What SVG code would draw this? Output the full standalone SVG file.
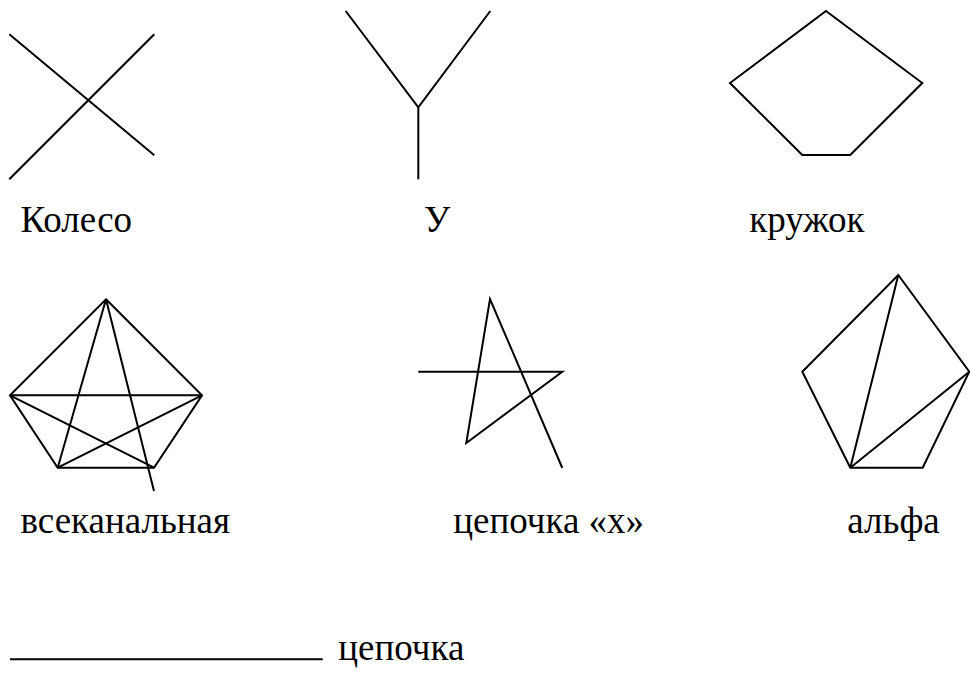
<svg xmlns="http://www.w3.org/2000/svg" width="970" height="675" viewBox="0 0 970 675">
<style>
.s{fill:none;stroke:#000;stroke-width:2}
</style>
<rect width="970" height="675" fill="#fff"/>
<g id="koleso">
<line class="s" x1="9.3" y1="34.3" x2="154.3" y2="155.3"/>
<line class="s" x1="154.3" y1="34.3" x2="9.3" y2="179.3"/>
<text x="20.5" y="231.7" font-family="Liberation Serif" font-size="37">Колесо</text>
</g>
<g id="u">
<polyline class="s" points="345.7,11 418.3,107.3 490.3,11"/>
<line class="s" x1="418.3" y1="107.3" x2="418.3" y2="179.3"/>
<text x="424" y="231.7" font-family="Liberation Serif" font-size="37">У</text>
</g>
<g id="kruzhok">
<polygon class="s" points="826,11 922.3,83 850.3,155 802.3,155 730,83"/>
<text x="749.3" y="231.7" font-family="Liberation Serif" font-size="37">кружок</text>
</g>
<g id="vsekanalnaya">
<polygon class="s" points="106,299.3 202,395.3 154,467.7 57.7,467.7 10,395.3"/>
<line class="s" x1="10" y1="395.3" x2="202" y2="395.3"/>
<line class="s" x1="106" y1="299.3" x2="57.7" y2="467.7"/>
<line class="s" x1="106" y1="299.3" x2="154" y2="491"/>
<line class="s" x1="10" y1="395.3" x2="154" y2="467.7"/>
<line class="s" x1="202" y1="395.3" x2="57.7" y2="467.7"/>
<text x="20.5" y="533.3" font-family="Liberation Serif" font-size="37">всеканальная</text>
</g>
<g id="tsepochka-x">
<polyline class="s" points="418.3,371.7 562.3,371.7 466.3,443 490,299 562.3,468"/>
<text x="453.3" y="533.3" font-family="Liberation Serif" font-size="37">цепочка «х»</text>
</g>
<g id="alfa">
<polygon class="s" points="898.3,275 969.3,371.7 922.7,467.7 850.3,467.7 802.3,371.7"/>
<line class="s" x1="898.3" y1="275" x2="850.3" y2="467.7"/>
<line class="s" x1="969.3" y1="371.7" x2="850.3" y2="467.7"/>
<text x="847.3" y="533.3" font-family="Liberation Serif" font-size="37">альфа</text>
</g>
<g id="tsepochka">
<line class="s" x1="10" y1="659.3" x2="322.7" y2="659.3"/>
<text x="338.3" y="660" font-family="Liberation Serif" font-size="37">цепочка</text>
</g>
</svg>
